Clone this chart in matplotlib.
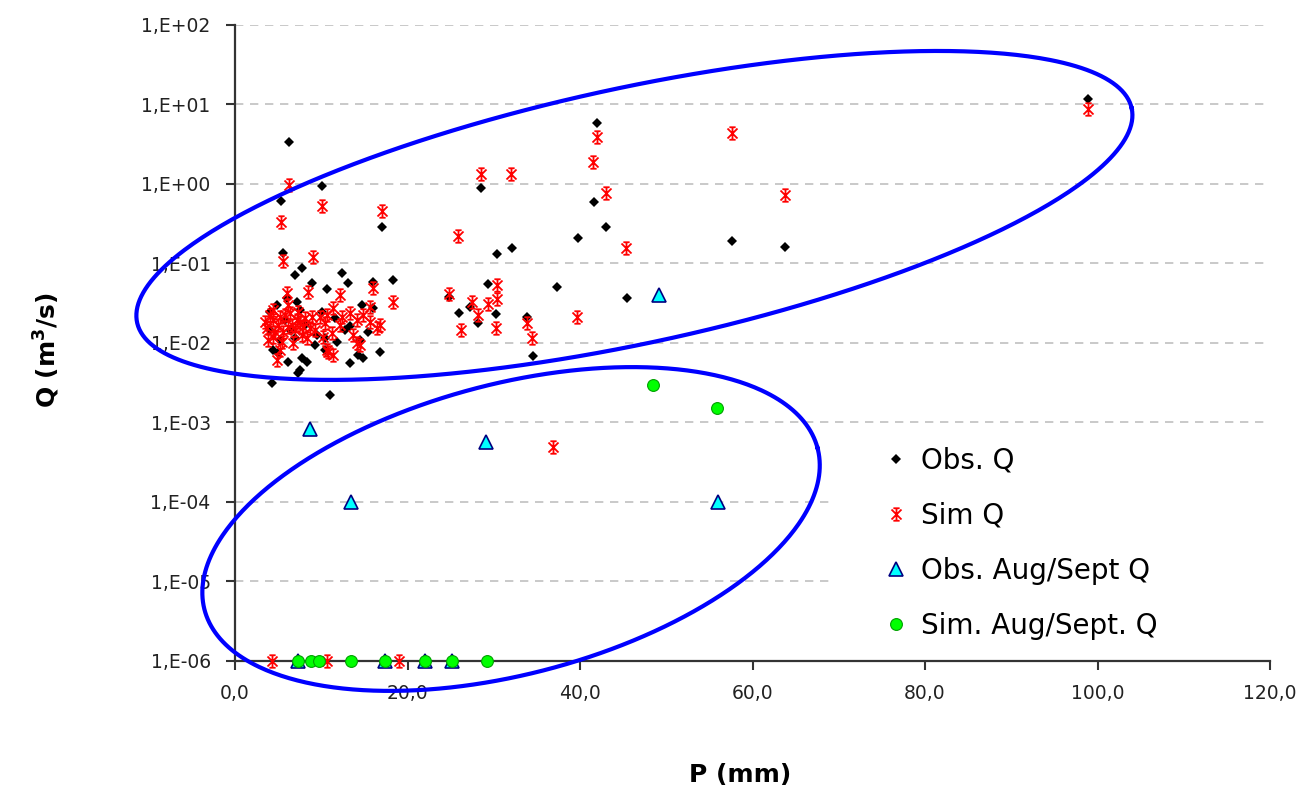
import numpy as np
import matplotlib
matplotlib.use('Agg')
import matplotlib.pyplot as plt
from matplotlib.path import Path
from matplotlib.patches import Rectangle

# ---- data: P (mm), Q (m3/s) ----
obs_p = [98.9, 42.0, 6.3, 10.1, 28.5, 41.6, 5.3, 43.0, 17.0, 39.8, 57.6, 63.8,
         32.1, 5.6, 30.4, 37.3, 29.3, 24.8, 45.4, 26.0, 28.2, 30.3, 33.9, 34.5,
         27.2, 11.0, 4.3,
         4.1, 4.9, 7.2, 8.9, 7.8, 7.0, 9.5, 7.0, 4.4, 5.0, 6.1, 7.8, 8.3, 7.5,
         7.3, 12.4, 13.1, 10.7, 16.0, 18.3, 14.7, 16.0, 10.1, 13.3, 15.4, 10.4,
         11.8, 16.8, 14.3, 14.8, 13.3, 10.4,
         5.8, 6.4, 8.1, 5.2, 9.3, 11.6, 12.8, 4.1, 7.5, 14.5, 6.0]
obs_q = [11.7, 5.8, 3.4, 0.94, 0.89, 0.59, 0.61, 0.29, 0.29, 0.21, 0.19, 0.16,
         0.157, 0.135, 0.131, 0.051, 0.055, 0.038, 0.037, 0.024, 0.018, 0.023, 0.021, 0.0069,
         0.028, 0.0022, 0.0031,
         0.0245, 0.0301, 0.0328, 0.0568, 0.0877, 0.0716, 0.0126, 0.0116, 0.0082, 0.0075, 0.0058, 0.0065, 0.0058, 0.0046,
         0.0042, 0.076, 0.0568, 0.0478, 0.0585, 0.062, 0.0301, 0.0276, 0.0245, 0.0164, 0.0138, 0.0116,
         0.0103, 0.0077, 0.0071, 0.0065, 0.0056, 0.0082,
         0.0195, 0.0146, 0.0168, 0.0109, 0.0094, 0.0205, 0.0146, 0.0146, 0.026, 0.0109, 0.0365]

sim_p = [98.9, 57.6, 42.0, 41.5, 28.5, 32.0, 43.0, 63.8, 6.2, 5.3, 10.1, 17.0,
         25.9, 45.3, 5.6, 9.0, 24.8, 27.5, 29.3, 30.4, 28.2, 26.2, 30.3, 33.9,
         34.4, 39.7, 36.9, 30.4, 15.7, 14.1, 10.8,
         6.0, 8.5, 3.7, 4.4, 5.2, 6.4, 7.2, 4.4, 5.6, 7.9, 8.9, 4.9, 5.2, 6.7,
         9.9, 10.2, 4.4, 6.1, 8.3, 10.7, 16.0, 18.3, 12.2, 11.4, 13.3, 14.8,
         15.7, 16.8, 10.4, 12.2, 13.7, 14.5, 11.2, 10.7, 11.4, 16.5, 12.4, 14.1,
         3.5, 4.1, 5.0, 5.8, 6.6, 7.3, 7.8, 7.0, 3.8, 8.1, 8.7, 5.4, 4.6, 6.1,
         9.3, 7.5,
         4.25, 10.7, 19.0]
sim_q = [8.8, 4.4, 3.9, 1.9, 1.34, 1.34, 0.77, 0.73, 0.97, 0.33, 0.53, 0.46,
         0.22, 0.157, 0.108, 0.121, 0.041, 0.033, 0.031, 0.036, 0.0225, 0.0146, 0.0155, 0.018,
         0.0116, 0.0212, 0.00049, 0.054, 0.0284, 0.010, 0.0077,
         0.0426, 0.0438, 0.0155, 0.0195, 0.0212, 0.0238, 0.0195, 0.0119, 0.0138, 0.0159, 0.0212, 0.0061, 0.0082, 0.0100,
         0.0212, 0.0119, 0.026, 0.0159, 0.0116, 0.0225, 0.0492, 0.0328, 0.0402, 0.0276, 0.0238, 0.0225,
         0.0184, 0.0168, 0.0179, 0.0168, 0.0126, 0.0094, 0.0134, 0.0082, 0.0071, 0.0155, 0.0212, 0.0195,
         0.0184, 0.0225, 0.0168, 0.0225, 0.0168, 0.0245, 0.0126, 0.0146, 0.0109, 0.0205, 0.0155, 0.0103, 0.0138, 0.0301,
         0.0146, 0.0184,
         1e-6, 1e-6, 1e-6]

obs_aug_p = [49.2, 8.7, 29.1, 13.4, 56.0, 7.3, 17.4, 22.0, 25.2]
obs_aug_q = [0.04, 0.00083, 0.00057, 1e-4, 1e-4, 1e-6, 1e-6, 1e-6, 1e-6]

sim_aug_p = [48.4, 55.9, 7.3, 8.8, 9.7, 13.5, 17.4, 22.0, 25.2, 29.2]
sim_aug_q = [0.003, 0.0015, 1e-6, 1e-6, 1e-6, 1e-6, 1e-6, 1e-6, 1e-6, 1e-6]

x_ticks = [0, 20, 40, 60, 80, 100, 120]
x_labels = ['0,0', '20,0', '40,0', '60,0', '80,0', '100,0', '120,0']
y_ticks = [1e-6, 1e-5, 1e-4, 1e-3, 1e-2, 1e-1, 1e0, 1e1, 1e2]
y_labels = ['1,E-06', '1,E-05', '1,E-04', '1,E-03', '1,E-02', '1,E-01',
            '1,E+00', '1,E+01', '1,E+02']

# ---- figure ----
fig = plt.figure(figsize=(13.08, 7.95), dpi=100)
ax = fig.add_axes([0.1797, 0.1686, 0.7913, 0.8])
ax.set_yscale('log')
ax.set_xlim(0, 120)
ax.set_ylim(1e-6, 1e2)

# excel-like star marker
star = Path([(-0.8, -0.8), (0.8, 0.8), (-0.8, 0.8), (0.8, -0.8), (0, -1), (0, 1),
             (-0.5, 1), (0.5, 1), (-0.5, -1), (0.5, -1)],
            [Path.MOVETO, Path.LINETO] * 5)

ax.plot(obs_p, obs_q, ls='none', marker='D', ms=5.5, color='black', mew=0,
        label='Obs. Q', clip_on=False, zorder=3)
ax.plot(sim_p, sim_q, ls='none', marker=star, ms=9, color='red', mew=1.3,
        label='Sim Q', clip_on=False, zorder=3)
ax.plot(obs_aug_p, obs_aug_q, ls='none', marker='^', ms=9.5, mfc='#00ffff',
        mec='#000080', mew=1.2, label='Obs. Aug/Sept Q', clip_on=False, zorder=4)
ax.plot(sim_aug_p, sim_aug_q, ls='none', marker='o', ms=8.5, mfc='#00ff00',
        mec='#00a000', mew=0.8, label='Sim. Aug/Sept. Q', clip_on=False, zorder=4)


def ellipse(pc, qc, a, b, ang):
    # a, b in pixels; drawn round a centre given in data units
    bb = ax.get_position()
    sx = bb.width * fig.get_figwidth() * fig.dpi / 120.0
    sy = bb.height * fig.get_figheight() * fig.dpi / 8.0
    t = np.linspace(0, 2 * np.pi, 500)
    th = np.radians(ang)
    dx = a * np.cos(t) * np.cos(th) - b * np.sin(t) * np.sin(th)
    dy = a * np.cos(t) * np.sin(th) + b * np.sin(t) * np.cos(th)
    ax.plot(pc + dx / sx, 10 ** (np.log10(qc) + dy / sy), color='#0000ff',
            lw=3, clip_on=False, zorder=6)


ellipse(46.3, 0.402, 508.7, 127.7, 12.15)
ellipse(32.0, 4.57e-5, 317.0, 145.0, 14.8)

# grid and axes styling
ax.set_axisbelow(True)
ax.yaxis.grid(True, color='#c0c0c0', ls=(0, (5, 4)), lw=1.2)
for s in ['top', 'right']:
    ax.spines[s].set_visible(False)
for s in ['left', 'bottom']:
    ax.spines[s].set_color('#333333')
    ax.spines[s].set_linewidth(1.6)

ax.set_xticks(x_ticks)
ax.set_xticklabels(x_labels)
ax.set_yticks(y_ticks)
ax.set_yticklabels(y_labels)
ax.yaxis.set_minor_locator(matplotlib.ticker.NullLocator())
ax.tick_params(axis='both', direction='out', length=6.5, width=1.5,
               color='#333333', labelsize=13.5, labelcolor='#222222')
ax.tick_params(axis='x', pad=10)
ax.tick_params(axis='y', pad=11)

ax.set_xlabel('P (mm)', fontsize=18, fontweight='bold', va='center')
ax.xaxis.set_label_coords(0.488, -0.179)
ax.set_ylabel(r'Q (m$^\mathbf{3}$/s)', fontsize=18, fontweight='bold', va='center')
ax.yaxis.set_label_coords(-0.182, 0.489)

# white box behind the legend hides the grid there
ax.add_patch(Rectangle((0.575, 0.017), 0.425, 0.345, transform=ax.transAxes,
                       facecolor='white', edgecolor='none', zorder=1.5))
leg = ax.legend(loc='upper left', bbox_to_anchor=(868 / 1308, 1 - 433 / 795),
                bbox_transform=fig.transFigure, frameon=False, fontsize=20,
                borderpad=0, handlelength=1.0, handletextpad=0.4,
                labelspacing=0.97, numpoints=1)

fig.savefig('out.png', dpi=100)
